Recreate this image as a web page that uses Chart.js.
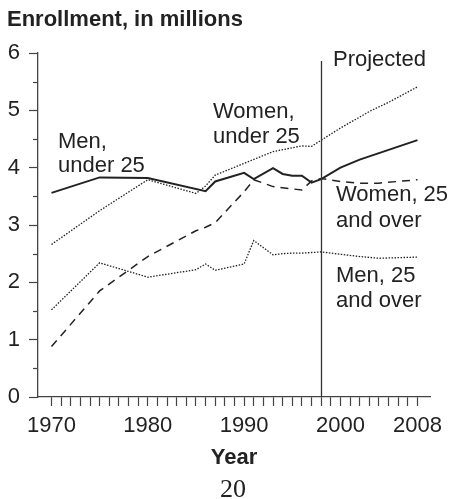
<!DOCTYPE html>
<html>
<head>
<meta charset="utf-8">
<script src="https://cdn.jsdelivr.net/npm/chart.js@4"></script>
<style>
  html, body { margin: 0; padding: 0; background: #fff; }
  #wrap { width: 453px; height: 499px; position: relative; }
</style>
</head>
<body>
<div id="wrap"><canvas id="myChart" width="453" height="499"></canvas></div>
<script>
// enrollment data (millions)
const menUnder25Years = [1970, 1975, 1980, 1986, 1987, 1990, 1991, 1993, 1994, 1995, 1996, 1997, 1998, 2000, 2002, 2008];
const menUnder25 = [3.56, 3.83, 3.82, 3.59, 3.76, 3.91, 3.80, 3.99, 3.89, 3.86, 3.86, 3.74, 3.80, 4.00, 4.14, 4.48];

const womenUnder25Years = [1970, 1975, 1980, 1985, 1986, 1987, 1993, 1996, 1997, 1998, 2000, 2003, 2005, 2008];
const womenUnder25 = [2.66, 3.25, 3.79, 3.55, 3.68, 3.87, 4.28, 4.38, 4.37, 4.48, 4.69, 4.98, 5.14, 5.41];

const women25OverYears = [1970, 1975, 1980, 1985, 1986, 1987, 1989, 1990, 1991, 1993, 1996, 1997, 1998, 2000, 2002, 2004, 2006, 2008];
const women25Over = [0.88, 1.85, 2.45, 2.90, 2.96, 3.04, 3.40, 3.58, 3.79, 3.67, 3.61, 3.77, 3.81, 3.76, 3.73, 3.73, 3.76, 3.79];

const men25OverYears = [1970, 1975, 1980, 1985, 1986, 1987, 1990, 1991, 1993, 1994, 1995, 1996, 1997, 1998, 2000, 2002, 2004, 2006, 2008];
const men25Over = [1.52, 2.34, 2.09, 2.22, 2.32, 2.21, 2.32, 2.73, 2.48, 2.50, 2.51, 2.51, 2.52, 2.53, 2.49, 2.45, 2.42, 2.43, 2.44];

const xTickLabels = [1970, 1980, 1990, 2000, 2008];
const yTickLabels = [0, 1, 2, 3, 4, 5, 6];
const projectedYear = 1998;

const ink = "#222";
const axisInk = "#444";
const font = "'Liberation Sans', Arial, sans-serif";

function toPoints(years, values) {
  return years.map((yr, i) => ({ x: yr, y: values[i] }));
}

// minor y ticks, projection line and the text labels
const extras = {
  id: "extras",
  afterDraw(chart) {
    const ctx = chart.ctx;
    const x = chart.scales.x;
    const y = chart.scales.y;
    const left = chart.chartArea.left;

    ctx.save();
    ctx.strokeStyle = axisInk;
    ctx.lineWidth = 1.2;
    for (let v = 0.5; v < 6; v += 1) {
      const py = Math.round(y.getPixelForValue(v)) + 0.5;
      ctx.beginPath();
      ctx.moveTo(left - 5, py);
      ctx.lineTo(left, py);
      ctx.stroke();
    }

    const px = Math.round(x.getPixelForValue(projectedYear)) + 0.5;
    ctx.strokeStyle = "#333";
    ctx.lineWidth = 1.3;
    ctx.beginPath();
    ctx.moveTo(px, y.getPixelForValue(5.86));
    ctx.lineTo(px, y.getPixelForValue(0));
    ctx.stroke();

    ctx.fillStyle = ink;
    ctx.textBaseline = "alphabetic";
    ctx.textAlign = "left";
    ctx.font = "bold 22px " + font;
    ctx.fillText("Enrollment, in millions", 7, 26);

    ctx.font = "22px " + font;
    ctx.fillText("Men,", 58, 148);
    ctx.fillText("under 25", 58, 172);
    ctx.fillText("Women,", 213, 118);
    ctx.fillText("under 25", 213, 143);
    ctx.fillText("Projected", 333, 66);
    ctx.fillText("Women, 25", 336, 201);
    ctx.fillText("and over", 336, 227);
    ctx.fillText("Men, 25", 336, 282);
    ctx.fillText("and over", 336, 307);

    ctx.textAlign = "center";
    ctx.font = "bold 22px " + font;
    ctx.fillText("Year", 234, 464);
    ctx.font = "26px 'Liberation Serif', 'Times New Roman', serif";
    ctx.fillText("20", 233, 497);
    ctx.restore();
  }
};

new Chart("myChart", {
  type: "line",
  data: {
    datasets: [
      {
        label: "Men, under 25",
        data: toPoints(menUnder25Years, menUnder25),
        borderColor: ink,
        borderWidth: 2,
        pointRadius: 0,
        tension: 0
      },
      {
        label: "Women, under 25",
        data: toPoints(womenUnder25Years, womenUnder25),
        borderColor: ink,
        borderWidth: 1.3,
        borderDash: [1.5, 1.5],
        pointRadius: 0,
        tension: 0
      },
      {
        label: "Women, 25 and over",
        data: toPoints(women25OverYears, women25Over),
        borderColor: ink,
        borderWidth: 1.5,
        borderDash: [8, 6],
        pointRadius: 0,
        tension: 0
      },
      {
        label: "Men, 25 and over",
        data: toPoints(men25OverYears, men25Over),
        borderColor: ink,
        borderWidth: 1.3,
        borderDash: [1.5, 1.5],
        pointRadius: 0,
        tension: 0
      }
    ]
  },
  options: {
    responsive: false,
    animation: false,
    events: [],
    layout: { autoPadding: false, padding: { top: 53, right: 23, left: 0, bottom: 0 } },
    plugins: { legend: { display: false }, tooltip: { enabled: false }, title: { display: false } },
    scales: {
      x: {
        type: "linear",
        min: 1968.6,
        max: 2009.3,
        afterBuildTicks(scale) {
          const t = [];
          for (let yr = xTickLabels[0]; yr <= xTickLabels[xTickLabels.length - 1]; yr++) t.push({ value: yr });
          scale.ticks = t;
        },
        afterFit(scale) { scale.height = 102; },
        ticks: {
          autoSkip: false,
          maxRotation: 0,
          padding: 7,
          color: ink,
          font: { family: font, size: 22 },
          callback: (v) => (xTickLabels.includes(v) ? String(v) : "")
        },
        grid: { drawOnChartArea: false, drawTicks: true, tickLength: 9, tickColor: axisInk, tickWidth: 1.2 },
        border: { display: true, color: axisInk, width: 1.3 }
      },
      y: {
        min: 0,
        max: 6,
        afterBuildTicks(scale) {
          scale.ticks = yTickLabels.map((v) => ({ value: v }));
        },
        afterFit(scale) { scale.width = 38; },
        ticks: {
          padding: 9,
          color: ink,
          font: { family: font, size: 22 }
        },
        grid: { drawOnChartArea: false, drawTicks: true, tickLength: 9, tickColor: axisInk, tickWidth: 1.2 },
        border: { display: true, color: axisInk, width: 1.3 }
      }
    }
  },
  plugins: [extras]
});
</script>
</body>
</html>
